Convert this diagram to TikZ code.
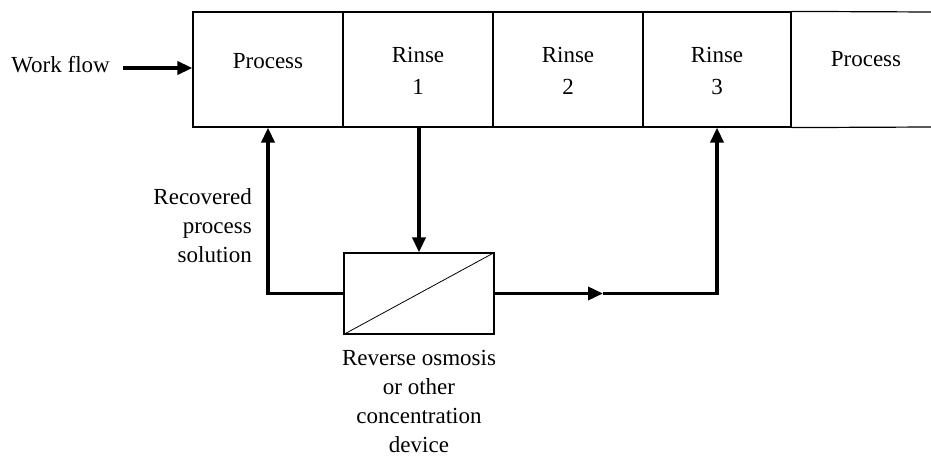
\documentclass[tikz,border=0pt]{standalone}
\usepackage{fontspec}
\setmainfont{Liberation Serif}
\usetikzlibrary{arrows.meta}
\begin{document}
\begin{tikzpicture}[x=1pt,y=-1pt,
  cell/.style={draw, line width=1.2pt, minimum height=115pt, inner sep=0pt},
  lbl/.style={inner sep=0pt, align=center, font=\fontsize{23}{32}\selectfont},
  side/.style={inner sep=0pt, font=\fontsize{23}{29}\selectfont},
  flow/.style={line width=3.5pt, -{Triangle[length=15pt,width=13pt]}}
]
\useasboundingbox (0,0) rectangle (931,457);
% strip of tanks
\node[cell, minimum width=150pt] (p1) at (268,69.5) {};
\node[cell, minimum width=150pt] (r1) at (418,69.5) {};
\node[cell, minimum width=150pt] (r2) at (568,69.5) {};
\node[cell, minimum width=148pt] (r3) at (717,69.5) {};
\coordinate (tr) at (931,12);
\coordinate (br) at (931,127);
\draw[line width=1.2pt] (r3.north east) -- (tr);
\draw[line width=1.2pt] (r3.south east) -- (br);
% labels of tanks
\node[lbl, anchor=base] (tp1) at (268,69) {Process};
\node[lbl, anchor=north] (tr1) at (418,47) {Rinse\\1};
\node[lbl, anchor=north] (tr2) at (568,47) {Rinse\\2};
\node[lbl, anchor=north] (tr3) at (717,47) {Rinse\\3};
\node[lbl, anchor=base] (tp2) at (866,67) {Process};
% work flow
\node[side, anchor=base east] (wf) at (110,73) {Work flow};
\coordinate (wfs) at (123,68);
\draw[flow] (wfs) -- (wfs -| p1.west);
% concentration device
\node[draw, line width=1.2pt, minimum width=150pt, minimum height=81pt, inner sep=0pt] (ro) at (419,293.5) {};
\draw[line width=0.8pt] (ro.south west) -- (ro.north east);
\draw[flow] (ro.north |- r1.south) -- (ro.north);
\coordinate (lft) at (268,293.5);
\draw[flow] (ro.west) -- (lft) -- (p1.south);
\coordinate (mid) at (603,293.5);
\draw[flow] (ro.east) -- (mid);
\coordinate (rgt) at (717,293.5);
\draw[flow] (mid) -- (rgt) -- (r3.south);
% texts
\node[side, anchor=north east, align=right] (rec) at (252,188) {Recovered\\process\\solution};
\node[side, anchor=north, align=center] (dev) at (419,350) {Reverse osmosis\\or other\\concentration\\device};
\end{tikzpicture}
\end{document}
